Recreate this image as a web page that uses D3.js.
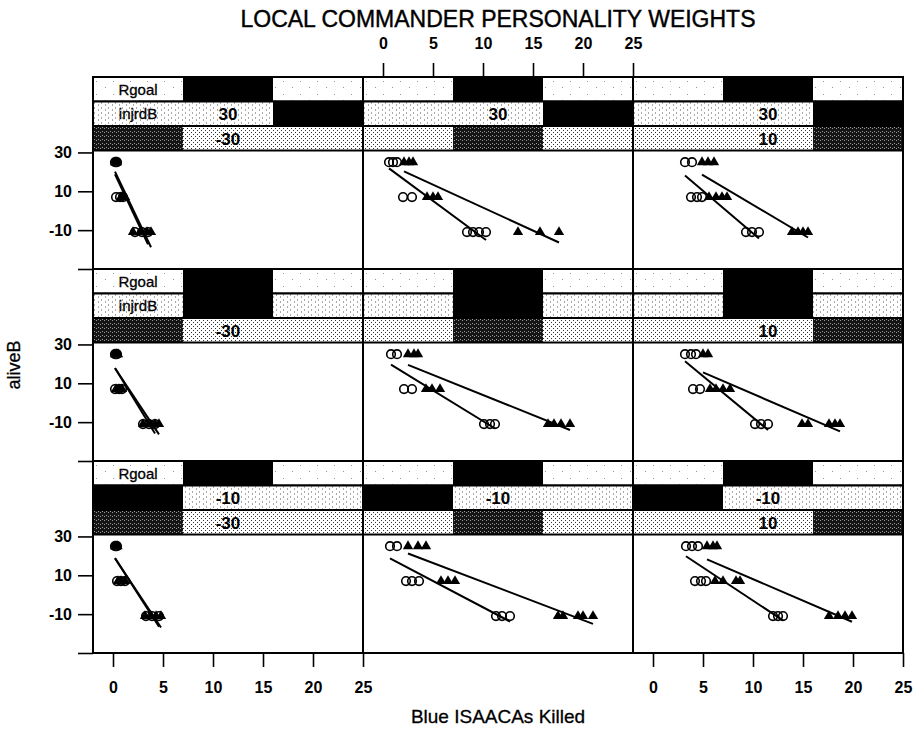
<!DOCTYPE html>
<html>
<head>
<meta charset="utf-8">
<script src="https://cdn.jsdelivr.net/npm/d3@7"></script>
<style>
body { margin: 0; background: #fff; }
svg text { font-family: "Liberation Sans", Arial, Helvetica, sans-serif; fill: #000; }
</style>
</head>
<body>
<svg id="chart" width="918" height="732"></svg>
<script>
// aliveB levels the points sit on
var yLevels = [25, 7, -11];

// Blue ISAACAs killed, open circles: one entry per panel (row by row), one list per y level
var circleX = [
    [[0.2, 0.3, 0.4], [0.3, 0.7, 1.0], [2.2, 2.9, 3.5]],
    [[0.6, 1.0, 1.4], [2.0, 2.9], [8.4, 9.0, 9.6, 10.3]],
    [[3.2, 3.9], [3.8, 4.4, 4.9], [9.3, 9.9, 10.6]],
    [[0.2, 0.3, 0.4], [0.2, 0.6, 0.9], [3.0, 3.6, 4.2]],
    [[0.8, 1.4], [2.1, 2.9], [10.1, 10.7, 11.2]],
    [[3.2, 3.8, 4.3], [4.0, 4.7], [10.2, 10.8, 11.5]],
    [[0.2, 0.3, 0.4], [0.4, 0.8, 1.2], [3.3, 3.9, 4.6]],
    [[0.7, 1.4], [2.3, 2.9, 3.6], [11.3, 11.9, 12.7]],
    [[3.3, 3.9, 4.5], [4.2, 4.8, 5.3], [12.0, 12.5, 13.0]]
];

// filled triangles, same layout
var triangleX = [
    [[0.2, 0.3, 0.4], [0.8, 1.0, 1.2], [2.0, 2.7, 3.4, 3.8]],
    [[2.1, 2.6, 3.0], [4.4, 5.0, 5.5], [13.5, 15.7, 17.6]],
    [[4.9, 5.5, 6.1], [5.6, 6.3, 6.9, 7.4], [13.9, 14.5, 15.0, 15.5]],
    [[0.2, 0.35, 0.5], [0.3, 0.6, 0.9], [3.0, 3.6, 4.2, 4.6]],
    [[2.5, 3.1, 3.5], [4.3, 4.9, 5.7], [16.5, 17.1, 17.8, 18.7]],
    [[5.0, 5.5], [5.7, 6.3, 7.0, 7.7], [14.9, 15.5, 17.6, 18.2, 18.7]],
    [[0.2, 0.3, 0.45], [0.5, 0.8, 1.2], [3.2, 3.8, 4.3, 4.8]],
    [[2.5, 3.5, 4.3], [5.8, 6.5, 7.2], [17.5, 18.0, 19.5, 20.0, 21.0]],
    [[5.4, 6.0, 6.4], [6.2, 7.0, 8.3, 8.7], [17.6, 18.5, 19.2, 19.9]]
];

// strip variables
var stripNames = ["Rgoal", "injrdB", ""];
var rgoalLevel = 1;
var injrdLevels = ["-10", "10", "30"];
var injrdByRow = [2, 1, 0];
var thirdLevels = ["-30", "-10", "10"];
var thirdByCol = [0, 1, 2];

var xTicks = [0, 5, 10, 15, 20, 25];
var yTicks = [-30, -10, 10, 30];

var padL = 93, padT = 77,
    panelW = 270, rowH = 192,
    stripH = 24.5,
    dataH = rowH - 3 * stripH;

var svg = d3.select('#chart');

var x = d3.scaleLinear().domain([-2, 25]).range([0, panelW]);
var y = d3.scaleLinear().domain([-30, 31]).range([dataH, 0]);

// dotted fills for the strips
var defs = svg.append('defs');
function pattern(id, w, h, bg, dots, dotColor) {
    var p = defs.append('pattern')
        .attr('id', id)
        .attr('patternUnits', 'userSpaceOnUse')
        .attr('width', w).attr('height', h);
    p.append('rect').attr('width', w).attr('height', h).attr('fill', bg);
    dots.forEach(function (d) {
        p.append('rect').attr('x', d[0]).attr('y', d[1])
            .attr('width', 1).attr('height', 1).attr('fill', dotColor);
    });
}
pattern('spk', 17, 13, '#fff', [[3, 4], [12, 10]], '#999');
pattern('dots', 7, 5, '#fff', [[1, 1], [5, 3]], '#555');
pattern('stip', 4, 4, '#fff', [[0, 0], [2, 2]], '#333');
pattern('dark', 4, 4, '#151515', [[1, 1], [3, 2]], '#999');

var lightFill = ['url(#spk)', 'url(#dots)', 'url(#stip)'];
var markFill = ['#000', '#000', 'url(#dark)'];

function fit(xs, ys) {
    var mx = d3.mean(xs), my = d3.mean(ys);
    var sxy = d3.sum(xs, function (v, i) { return (v - mx) * (ys[i] - my); });
    var sxx = d3.sum(xs, function (v) { return (v - mx) * (v - mx); });
    var b = sxy / sxx;
    var x0 = d3.min(xs), x1 = d3.max(xs);
    return [[x0, my + b * (x0 - mx)], [x1, my + b * (x1 - mx)]];
}

function flatten(groups) {
    var pts = [];
    groups.forEach(function (g, li) {
        g.forEach(function (v) { pts.push([v, yLevels[li]]); });
    });
    return pts;
}

var line = d3.line()
    .x(function (d) { return x(d[0]); })
    .y(function (d) { return y(d[1]); });

var tri = d3.symbol().type(d3.symbolTriangle).size(46);

for (var r = 0; r < 3; r++) {
    for (var c = 0; c < 3; c++) {
        var p = r * 3 + c;
        var g = svg.append('g')
            .attr('transform', 'translate(' + (padL + c * panelW) + ',' + (padT + r * rowH) + ')');

        // strips
        var marks = [rgoalLevel, injrdByRow[r], thirdByCol[c]];
        var values = [null, injrdLevels[injrdByRow[r]], thirdLevels[thirdByCol[c]]];
        for (var s = 0; s < 3; s++) {
            var sg = g.append('g').attr('transform', 'translate(0,' + (s * stripH) + ')');
            sg.selectAll('rect.seg')
                .data([0, 1, 2])
                .enter().append('rect')
                .attr('class', 'seg')
                .attr('x', function (k) { return k * panelW / 3; })
                .attr('width', panelW / 3)
                .attr('height', stripH)
                .attr('fill', function (k) { return k === marks[s] ? markFill[s] : lightFill[s]; })
                .attr('shape-rendering', 'crispEdges');
            sg.append('rect')
                .attr('width', panelW).attr('height', stripH)
                .attr('fill', 'none')
                .attr('stroke', '#000').attr('stroke-width', 2);
            if (c === 0 && marks[s] !== 0 && stripNames[s]) {
                sg.append('text')
                    .attr('x', panelW / 6).attr('y', stripH / 2)
                    .attr('dy', '0.36em')
                    .attr('text-anchor', 'middle')
                    .style('font-size', '15px')
                    .style('stroke', '#000').style('stroke-width', 0.3)
                    .text(stripNames[s]);
            }
            if (values[s] && marks[s] !== 1) {
                sg.append('text')
                    .attr('x', panelW / 2).attr('y', stripH / 2)
                    .attr('dy', '0.37em')
                    .attr('text-anchor', 'middle')
                    .style('font-size', '17px')
                    .style('font-weight', 'bold')
                    .text(values[s]);
            }
        }

        // data area
        var dg = g.append('g').attr('transform', 'translate(0,' + (3 * stripH) + ')');
        var cPts = flatten(circleX[p]);
        var tPts = flatten(triangleX[p]);

        [cPts, tPts].forEach(function (pts) {
            dg.append('path')
                .datum(fit(pts.map(function (d) { return d[0]; }), pts.map(function (d) { return d[1]; })))
                .attr('d', line)
                .attr('fill', 'none')
                .attr('stroke', '#000')
                .attr('stroke-width', 2);
        });

        dg.selectAll('circle.pt')
            .data(cPts)
            .enter().append('circle')
            .attr('class', 'pt')
            .attr('cx', function (d) { return x(d[0]); })
            .attr('cy', function (d) { return y(d[1]); })
            .attr('r', 4.3)
            .attr('fill', 'none')
            .attr('stroke', '#000')
            .attr('stroke-width', 1.6);

        dg.selectAll('path.tri')
            .data(tPts)
            .enter().append('path')
            .attr('class', 'tri')
            .attr('transform', function (d) { return 'translate(' + x(d[0]) + ',' + y(d[1]) + ')'; })
            .attr('d', tri)
            .attr('fill', '#000');
    }
}

// frame and panel dividers
var frame = svg.append('g').attr('stroke', '#000').attr('stroke-width', 2).attr('fill', 'none');
frame.append('rect')
    .attr('x', padL).attr('y', padT)
    .attr('width', 3 * panelW).attr('height', 3 * rowH);
[1, 2].forEach(function (k) {
    frame.append('line')
        .attr('x1', padL + k * panelW).attr('x2', padL + k * panelW)
        .attr('y1', padT).attr('y2', padT + 3 * rowH);
    frame.append('line')
        .attr('x1', padL).attr('x2', padL + 3 * panelW)
        .attr('y1', padT + k * rowH).attr('y2', padT + k * rowH);
});

function styleAxis(ag, size) {
    ag.select('.domain').remove();
    ag.selectAll('line').attr('stroke', '#000').attr('stroke-width', 1.6);
    ag.selectAll('text')
        .style('font-size', size)
        .style('font-weight', 'bold')
        .style('font-family', '"Liberation Sans", Arial, Helvetica, sans-serif');
}

// y axes, one per row
for (var r2 = 0; r2 < 3; r2++) {
    var ya = svg.append('g')
        .attr('transform', 'translate(' + padL + ',' + (padT + r2 * rowH + 3 * stripH) + ')')
        .call(d3.axisLeft(y)
            .tickValues(yTicks)
            .tickSize(15)
            .tickPadding(6)
            .tickFormat(function (d) { return d === -30 ? '' : d; }));
    styleAxis(ya, '16px');
}

// top axis over the middle column
var ta = svg.append('g')
    .attr('transform', 'translate(' + (padL + panelW) + ',' + padT + ')')
    .call(d3.axisTop(x).tickValues(xTicks).tickSize(14).tickPadding(14));
styleAxis(ta, '16px');

// bottom axes under the outer columns
[0, 2].forEach(function (c2) {
    var ba = svg.append('g')
        .attr('transform', 'translate(' + (padL + c2 * panelW) + ',' + (padT + 3 * rowH) + ')')
        .call(d3.axisBottom(x).tickValues(xTicks).tickSize(14).tickPadding(15));
    styleAxis(ba, '16px');
});

svg.append('text')
    .attr('x', padL + 1.5 * panelW).attr('y', 27)
    .attr('text-anchor', 'middle')
    .style('font-size', '23px')
    .style('stroke', '#000').style('stroke-width', 0.4)
    .text('LOCAL COMMANDER PERSONALITY WEIGHTS');

svg.append('text')
    .attr('x', padL + 1.5 * panelW).attr('y', 723)
    .attr('text-anchor', 'middle')
    .style('font-size', '19px')
    .style('stroke', '#000').style('stroke-width', 0.3)
    .text('Blue ISAACAs Killed');

svg.append('text')
    .attr('transform', 'translate(20,365) rotate(-90)')
    .attr('text-anchor', 'middle')
    .style('font-size', '18px')
    .style('stroke', '#000').style('stroke-width', 0.3)
    .text('aliveB');
</script>
</body>
</html>
